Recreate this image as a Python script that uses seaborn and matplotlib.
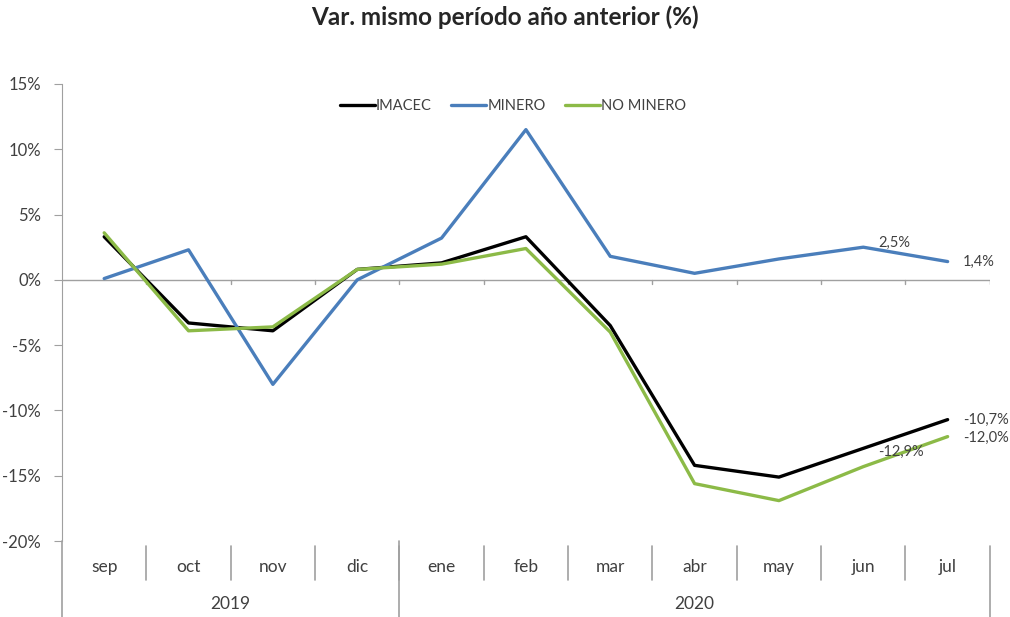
import numpy as np
import pandas as pd
import seaborn as sns
from matplotlib import pyplot as plt
from matplotlib.transforms import blended_transform_factory

months = ["sep", "oct", "nov", "dic", "ene", "feb", "mar", "abr", "may", "jun", "jul"]
years = ["2019", "2020"]
year_sizes = [4, 7]

imacec = [3.3, -3.3, -3.9, 0.8, 1.3, 3.3, -3.5, -14.2, -15.1, -12.9, -10.7]
minero = [0.1, 2.3, -8.0, 0.0, 3.2, 11.5, 1.8, 0.5, 1.6, 2.5, 1.4]
no_minero = [3.6, -3.9, -3.6, 0.8, 1.2, 2.4, -4.0, -15.6, -16.9, -14.3, -12.0]

series = ["IMACEC", "MINERO", "NO MINERO"]
colors = ["#000000", "#4a7ebb", "#8cba47"]

df = pd.DataFrame({
    "pos": list(range(len(months))) * 3,
    "value": imacec + minero + no_minero,
    "serie": np.repeat(series, len(months)),
})

sns.set_style("white")
plt.rcParams["font.family"] = ["Lato", "DejaVu Sans"]

fig = plt.figure(figsize=(10.1, 6.17), dpi=100)
ax = fig.add_axes([0.0614, 0.123, 0.9186, 0.741])

sns.lineplot(data=df, x="pos", y="value", hue="serie", palette=dict(zip(series, colors)),
             linewidth=2.4, ax=ax)

ax.set_xlim(-0.5, len(months) - 0.5)
ax.set_ylim(-20, 15)
ax.set_yticks(range(-20, 16, 5))
ax.set_yticklabels([f"{v}%" for v in range(-20, 16, 5)], fontsize=12, color="#404040")
ax.tick_params(axis="y", length=6, color="#a0a0a0", pad=9, left=True)
ax.set_xticks([])
ax.set_xlabel("")
ax.set_ylabel("")
for s in ["top", "right", "bottom"]:
    ax.spines[s].set_visible(False)
ax.spines["left"].set_color("#a0a0a0")

# zero axis line with boundary ticks
ax.axhline(0, color="#a0a0a0", linewidth=1, zorder=1)
for b in np.arange(0.5, len(months), 1):
    ax.plot([b, b], [0, -0.35], color="#a0a0a0", linewidth=1, zorder=1)

# category labels below the plot
tr = blended_transform_factory(ax.transData, ax.transAxes)
for i, m in enumerate(months):
    ax.text(i, -0.056, m, transform=tr, ha="center", va="center", fontsize=12.5, color="#404040")
for b in np.arange(0.5, len(months) - 1, 1):
    ax.plot([b, b], [-0.01, -0.085], transform=tr, color="#a0a0a0", linewidth=1.2, clip_on=False)
start = -0.5
for y, n in zip(years, year_sizes):
    ax.plot([start, start], [0, -0.17], transform=tr, color="#a0a0a0", linewidth=1.2, clip_on=False)
    ax.text(start + n / 2, -0.138, y, transform=tr, ha="center", va="center",
            fontsize=12.5, color="#404040")
    start += n
ax.plot([start, start], [-0.01, -0.17], transform=tr, color="#a0a0a0", linewidth=1.2, clip_on=False)

# end labels
last = len(months) - 1
lab = dict(fontsize=10.5, color="#404040", va="center")
ax.text(last + 0.18, minero[-1], f"{minero[-1]:.1f}%".replace(".", ","), **lab)
ax.text(last + 0.18, imacec[-1], f"{imacec[-1]:.1f}%".replace(".", ","), **lab)
ax.text(last + 0.18, no_minero[-1] - 0.1, f"{no_minero[-1]:.1f}%".replace(".", ","), **lab)
ax.text(last - 1 + 0.18, minero[-2] + 0.3, f"{minero[-2]:.1f}%".replace(".", ","), **lab)
ax.text(last - 1 + 0.18, imacec[-2] - 0.3, f"{imacec[-2]:.1f}%".replace(".", ","), **lab)

leg = ax.legend(loc="upper center", bbox_to_anchor=(0.486, 0.995), ncol=3, frameon=False,
                fontsize=10.5, handlelength=2.4, handletextpad=0.1, columnspacing=1.3)
for t in leg.get_texts():
    t.set_color("#404040")

fig.text(0.5, 0.972, "Var. mismo período año anterior (%)", ha="center", va="center",
         fontsize=17.5, fontweight="bold", color="#262626")

fig.savefig("out.png", dpi=100)
